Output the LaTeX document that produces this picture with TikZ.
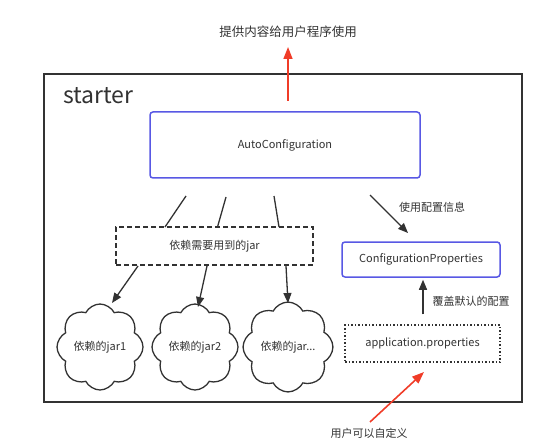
\documentclass[tikz,border=0pt]{standalone}
\usepackage{fontspec}
\setmainfont{Noto Sans CJK SC}
\usetikzlibrary{arrows.meta,shapes.symbols}
\definecolor{boxblue}{RGB}{88,88,228}
\definecolor{arrred}{RGB}{240,60,40}
\definecolor{ink}{RGB}{50,50,50}
\begin{document}
\begin{tikzpicture}[x=1pt,y=-1pt,
  txt/.style={font=\fontsize{11}{13}\selectfont, text=ink, inner sep=0pt},
  frame/.style={draw=ink, line width=1.4pt, minimum width=478pt, minimum height=328pt, inner sep=0pt},
  bluebox/.style={draw=boxblue, line width=1.5pt, rounded corners=3pt, inner sep=0pt, txt},
  dashbox/.style={draw=ink, line width=1.3pt, dash pattern=on 5pt off 3pt, inner sep=0pt, txt},
  dotbox/.style={draw=ink, line width=1.3pt, dash pattern=on 1.5pt off 2pt, inner sep=0pt, txt},
  jarcloud/.style={cloud, cloud puffs=8, cloud puff arc=125, draw=ink, line width=1.3pt, minimum width=83pt, minimum height=66pt, inner sep=0pt, txt},
  blk/.style={draw=ink, line width=1.3pt},
  blkarrow/.style={blk, -{Triangle[length=10pt,width=8pt]}},
  redarrow/.style={draw=arrred, line width=1.6pt, -{Triangle[length=12pt,width=9pt]}}
]
\useasboundingbox (0,0) rectangle (540,446);

\node[frame] (starter) at (283,238) {};
\node[txt, font=\fontsize{23}{24}\selectfont, anchor=west] (startertxt) at (63,96) {starter};

\node[txt, font=\fontsize{12.5}{14}\selectfont] (provide) at (288,32) {提供内容给用户程序使用};

\node[bluebox, minimum width=270pt, minimum height=66pt] (auto) at (285,145) {AutoConfiguration};
\node[dashbox, minimum width=197pt, minimum height=38pt] (deps) at (214.5,246) {依赖需要用到的jar};

\node[jarcloud] (jar1) at (100,347) {依赖的jar1};
\node[jarcloud] (jar2) at (195,347) {依赖的jar2};
\node[jarcloud] (jar3) at (288,347) {依赖的jar...};

\node[bluebox, minimum width=158pt, minimum height=35pt] (cprops) at (421,259.5) {ConfigurationProperties};
\node[dotbox, minimum width=155pt, minimum height=37pt] (appprops) at (422.5,343.5) {application.properties};

\node[txt] (useinfo) at (432,207) {使用配置信息};
\node[txt] (override) at (471,301) {覆盖默认的配置};
\node[txt] (custom) at (369,433) {用户可以自定义};

% coordinates
\coordinate (rt0) at (288,101);
\coordinate (rt1) at (288,47);
\coordinate (l1a) at (186,196); \coordinate (l1b) at (165,227);
\coordinate (l2a) at (226,197); \coordinate (l2b) at (217.5,227);
\coordinate (l3a) at (274,196); \coordinate (l3b) at (279,227);
\coordinate (a1a) at (138,266); \coordinate (a1b) at (112,303);
\coordinate (a2a) at (207,266); \coordinate (a2b) at (198,307);
\coordinate (a3a) at (286,266); \coordinate (a3b) at (288,303);
\coordinate (ua) at (370,195); \coordinate (ub) at (408,233);
\coordinate (rb0) at (370,422); \coordinate (rb1) at (424,372);

\draw[redarrow] (rt0) -- (rt1);
\draw[blk] (l1a) -- (l1b);
\draw[blk] (l2a) -- (l2b);
\draw[blk] (l3a) -- (l3b);
\draw[blkarrow] (a1a) -- (a1b);
\draw[blkarrow] (a2a) -- (a2b);
\draw[blkarrow] (a3a) -- (a3b);
\draw[blkarrow] (ua) -- (ub);
\draw[blkarrow, shorten <=10pt, shorten >=2pt] (appprops.north -| 423,0) -- (cprops.south -| 423,0);
\draw[redarrow] (rb0) -- (rb1);
\end{tikzpicture}
\end{document}
